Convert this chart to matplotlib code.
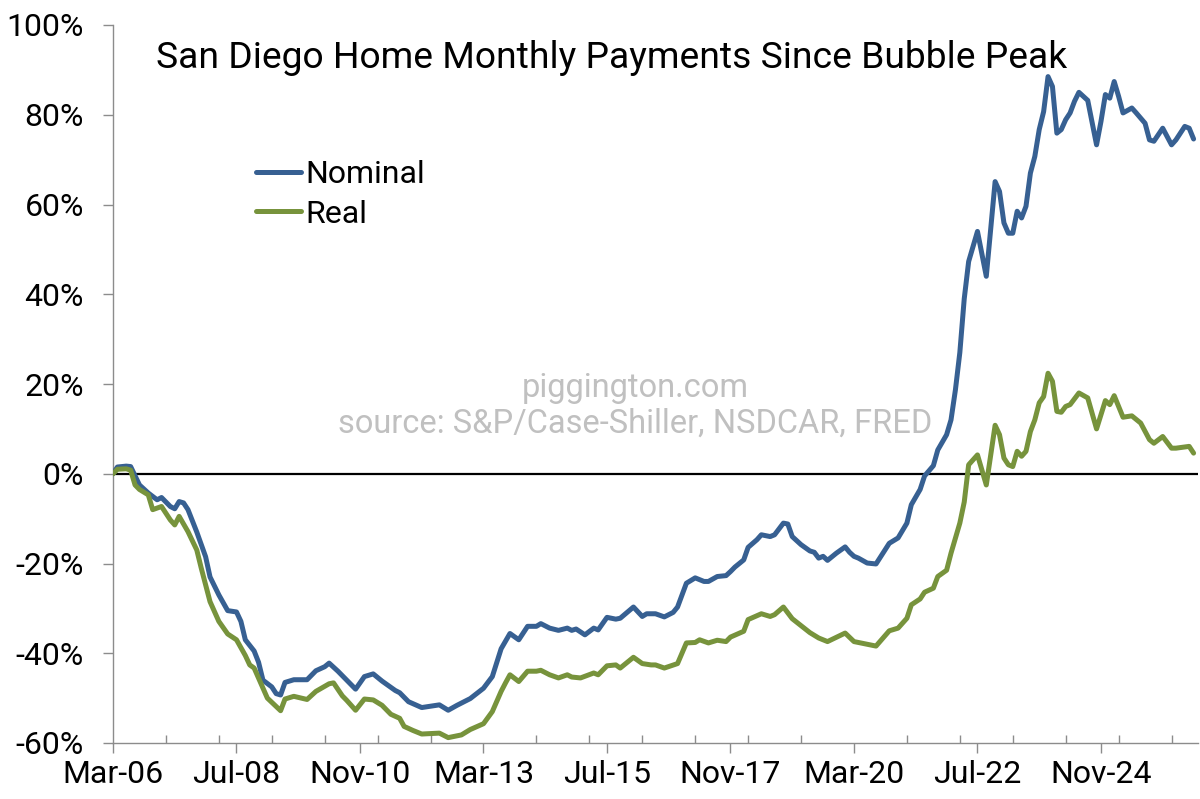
import matplotlib
matplotlib.use("Agg")
import matplotlib.pyplot as plt
from matplotlib.ticker import FixedLocator, FuncFormatter

# ---- data (month offsets from Mar-2006, % change since bubble peak) ----
nominal_months = [0, 1, 3, 4, 6, 8, 10, 11, 13, 14, 15, 16, 17, 19, 21, 22, 24, 26, 28, 29, 30, 32, 33, 34,
                  36, 37, 38, 39, 41, 44, 46, 48, 49, 51, 53, 55, 57, 59, 61, 64, 65, 67, 70, 74, 76, 78,
                  81, 84, 86, 88, 90, 92, 94, 96, 97, 99, 101, 103, 104, 105, 107, 109, 110, 112, 114, 115,
                  118, 120, 121, 123, 125, 127, 128, 130, 132, 134, 135, 137, 139, 140, 141, 143, 144, 146,
                  147, 149, 150, 152, 153, 154, 156, 158, 159, 160, 161, 162, 164, 166, 167, 168, 169, 171,
                  173, 176, 178, 180, 181, 183, 184, 186, 187, 189, 190, 191, 192, 193, 194, 196, 198, 200,
                  201, 202, 203, 204, 205, 206, 207, 208, 209, 210, 211, 212, 213, 214, 215, 216, 217, 218,
                  219, 221, 223, 224, 225, 226, 227, 228, 229, 231, 232, 234, 235, 236, 238, 240, 241, 243,
                  244, 245]
nominal_values = [0, 1.5, 1.7, 1.6, -2.5, -4.3, -5.8, -5.3, -7.3, -7.8, -6.2, -6.5, -8.0, -13, -18.5, -23,
                  -27, -30.5, -30.8, -32.9, -37, -39.5, -42, -46, -47.5, -49, -49.3, -46.5, -45.9, -45.9,
                  -43.9, -43, -42.2, -44, -46, -48, -45.2, -44.6, -46.2, -48.3, -48.8, -50.8, -52.1, -51.5,
                  -52.7, -51.6, -50.1, -47.8, -45.2, -39, -35.6, -37, -34, -34, -33.4, -34.4, -34.9, -34.4,
                  -34.9, -34.6, -35.9, -34.4, -34.8, -32, -32.4, -32.2, -29.7, -31.8, -31.2, -31.2, -31.9,
                  -30.9, -29.7, -24.4, -23.2, -24, -24, -22.9, -22.7, -21.8, -20.8, -19.2, -16.4, -14.7,
                  -13.6, -14, -13.6, -11, -11.2, -14, -15.8, -17.2, -17.5, -18.8, -18.4, -19.3, -17.7,
                  -16.3, -17.5, -18.4, -18.8, -19.9, -20.1, -15.5, -14.3, -11, -6.9, -3.5, -0.5, 1.8, 5.3,
                  8.7, 12, 18.7, 27, 39, 47.3, 54, 44, 65.1, 62.9, 55.9, 53.6, 53.6, 58.5, 57, 59.6, 67,
                  70.7, 76.7, 80.7, 88.5, 86.3, 75.9, 76.7, 78.9, 80.4, 83, 85, 83.2, 73.3, 78.5, 84.5,
                  83.7, 87.4, 84.1, 80.4, 81.5, 80.4, 78.1, 74.4, 74.1, 77, 73.3, 74.4, 77.4, 77, 74.6]

real_months = [0, 1, 3, 4, 5, 6, 8, 9, 11, 13, 14, 15, 17, 19, 20, 22, 24, 26, 28, 30, 31, 32, 34, 35, 38,
               39, 41, 44, 46, 49, 50, 52, 53, 55, 57, 59, 61, 63, 65, 66, 68, 70, 74, 76, 79, 81, 84, 86,
               88, 89, 90, 92, 94, 96, 97, 99, 101, 103, 104, 106, 109, 110, 112, 114, 115, 118, 120, 122,
               123, 125, 128, 130, 132, 133, 135, 137, 139, 140, 143, 144, 147, 149, 150, 152, 154, 158,
               160, 162, 166, 168, 173, 176, 178, 180, 181, 183, 184, 186, 187, 189, 190, 192, 193, 194,
               196, 198, 200, 201, 202, 203, 204, 205, 206, 207, 208, 209, 210, 211, 212, 213, 214, 215,
               216, 217, 219, 221, 223, 225, 226, 227, 229, 231, 233, 235, 236, 238, 240, 241, 244, 245]
real_values = [0, 1.0, 1.1, 0.8, -2.5, -3.5, -4.7, -8, -7.3, -10.3, -11.4, -9.5, -12.9, -17, -21, -28.5,
               -32.9, -35.7, -37, -40.5, -42.6, -43.3, -47.8, -50, -52.8, -50.2, -49.6, -50.3, -48.5, -46.8,
               -46.6, -49.5, -50.5, -52.7, -50.2, -50.4, -51.6, -53.6, -54.5, -56.3, -57.2, -58, -57.8,
               -58.8, -58.2, -57, -55.7, -53, -48.5, -46.6, -44.8, -46.3, -44, -44, -43.8, -44.8, -45.5,
               -44.8, -45.3, -45.5, -44.4, -44.8, -42.8, -42.6, -43.3, -40.9, -42.3, -42.6, -42.6, -43.3,
               -42.3, -37.7, -37.6, -37, -37.7, -37.1, -37.4, -36.4, -35.1, -32.5, -31.2, -31.8, -31.4,
               -29.7, -32.3, -35.4, -36.6, -37.4, -35.5, -37.4, -38.4, -35, -34.4, -32.2, -29.2, -27.9,
               -26.4, -25.5, -22.9, -21.5, -17.7, -11, -6.3, 2, 4.2, -2.5, 10.8, 8.7, 3.5, 2, 1.6, 5, 3.9,
               5, 9.4, 12, 15.8, 17.2, 22.4, 20.6, 13.9, 13.7, 15, 15.4, 18, 16.9, 10, 16.3, 15.4, 17.4,
               12.6, 12.9, 11.3, 7.6, 6.8, 8.3, 5.7, 5.7, 6.1, 4.6]

tick_months = [0, 28, 56, 84, 112, 140, 168, 196, 224]
tick_labels = ["Mar-06", "Jul-08", "Nov-10", "Mar-13", "Jul-15", "Nov-17", "Mar-20", "Jul-22", "Nov-24"]
minor_months = list(range(0, 246, 12))
y_ticks = [-60, -40, -20, 0, 20, 40, 60, 80, 100]

title = "San Diego Home Monthly Payments Since Bubble Peak"
watermark1 = "piggington.com"
watermark2 = "source: S&P/Case-Shiller, NSDCAR, FRED"

# ---- style ----
plt.rcParams['font.family'] = ['Roboto', 'DejaVu Sans']
blue = "#376092"
green = "#77933C"
axis_gray = "#8c8c8c"

fig = plt.figure(figsize=(12, 7.99), dpi=100)
ax = fig.add_axes([113/1200, 1 - 743/799, (1198-113)/1200, (743-25)/799])

ax.plot(nominal_months, nominal_values, color=blue, lw=3.6, solid_joinstyle='round',
        solid_capstyle='round', label="Nominal", zorder=3)
ax.plot(real_months, real_values, color=green, lw=3.6, solid_joinstyle='round',
        solid_capstyle='round', label="Real", zorder=3)
ax.axhline(0, color="black", lw=1.6, zorder=2)

ax.set_xlim(0, 246)
ax.set_ylim(-60, 100)

for s in ["top", "right"]:
    ax.spines[s].set_visible(False)
for s in ["left", "bottom"]:
    ax.spines[s].set_color(axis_gray)
    ax.spines[s].set_linewidth(1.0)

ax.xaxis.set_major_locator(FixedLocator(tick_months))
ax.set_xticklabels(tick_labels)
ax.xaxis.set_minor_locator(FixedLocator(minor_months))
ax.tick_params(axis='x', which='major', direction='out', length=7, width=1, color=axis_gray,
               labelsize=23, pad=5, labelcolor='black')
ax.tick_params(axis='x', which='minor', direction='in', length=6, width=1, color=axis_gray)

ax.yaxis.set_major_locator(FixedLocator(y_ticks))
ax.yaxis.set_major_formatter(FuncFormatter(lambda v, p: f"{v:.0f}%"))
ax.tick_params(axis='y', which='major', direction='out', length=7, width=1, color=axis_gray,
               labelsize=23, pad=14, labelcolor='black')

fig.text(612/1200, 1 - 58/799, title, ha='center', va='center', fontsize=26.8, color='black')
fig.text(635/1200, 1 - 388/799, watermark1, ha='center', va='center', fontsize=23.5, color='#c0c0c0')
fig.text(635/1200, 1 - 424/799, watermark2, ha='center', va='center', fontsize=23.5, color='#c0c0c0')

leg = ax.legend(loc='upper left', bbox_to_anchor=(256/1200, 1 - 160/799),
                bbox_transform=fig.transFigure, frameon=False, fontsize=23,
                handlelength=1.4, handletextpad=0.15, labelspacing=0.33,
                borderpad=0, borderaxespad=0)

fig.savefig("out.png", dpi=100)
